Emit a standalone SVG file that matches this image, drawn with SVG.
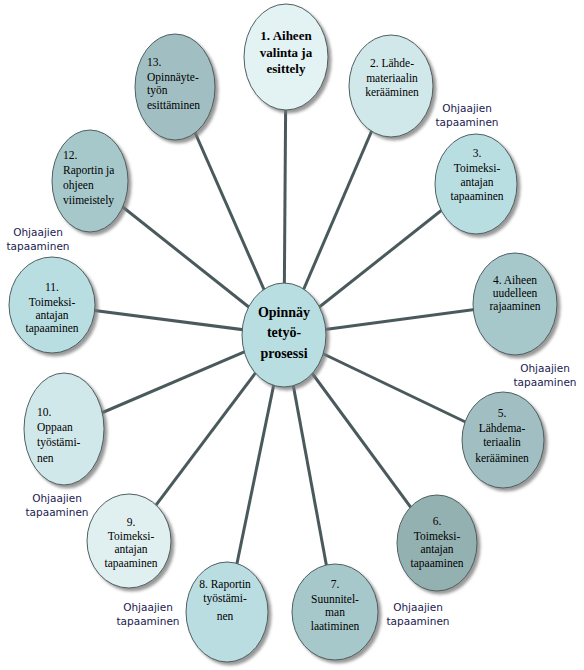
<svg xmlns="http://www.w3.org/2000/svg" width="584" height="670" viewBox="0 0 584 670">
<defs>
<filter id="sh" x="-20%" y="-20%" width="150%" height="150%">
<feDropShadow dx="3" dy="3" stdDeviation="1.5" flood-color="#777" flood-opacity="0.75"/>
</filter>
</defs>
<style>
.n{stroke:#4f5f61;stroke-width:1;filter:url(#sh)}
.t{font-family:"Liberation Serif","Times New Roman",serif;font-size:11.5px;fill:#000;text-anchor:middle}
.s{text-anchor:start}
.b{font-weight:bold;font-size:13px}
.l{font-family:"DejaVu Sans",Verdana,sans-serif;font-size:10.5px;fill:#1a1a50;text-anchor:middle}
.c{stroke:#4a5a5c;stroke-width:3;fill:none}
</style>
<rect width="584" height="670" fill="#fff"/>
<g id="connectors">
<line class="c" x1="284" y1="335" x2="286" y2="57"/>
<line class="c" x1="284" y1="335" x2="391" y2="86"/>
<line class="c" x1="284" y1="335" x2="476" y2="183"/>
<line class="c" x1="284" y1="335" x2="515" y2="304"/>
<line class="c" x1="284" y1="335" x2="503" y2="440"/>
<line class="c" x1="284" y1="335" x2="437" y2="543"/>
<line class="c" x1="284" y1="335" x2="335" y2="612"/>
<line class="c" x1="284" y1="335" x2="227" y2="612"/>
<line class="c" x1="284" y1="335" x2="129" y2="541"/>
<line class="c" x1="284" y1="335" x2="64" y2="429"/>
<line class="c" x1="284" y1="335" x2="52" y2="305"/>
<line class="c" x1="284" y1="335" x2="90" y2="181"/>
<line class="c" x1="284" y1="335" x2="175" y2="87"/>
</g>
<g id="n1">
<ellipse class="n" cx="286" cy="57" rx="42" ry="53" fill="#e3f2f3"/>
<text class="t b" x="286" y="40">1. Aiheen</text>
<text class="t b" x="286" y="57">valinta ja</text>
<text class="t b" x="286" y="73">esittely</text>
</g>
<g id="n2">
<ellipse class="n" cx="391" cy="86" rx="42" ry="51" fill="#d1e8ea"/>
<text class="t" x="392" y="67">2. Lähde-</text>
<text class="t" x="392" y="82">materiaalin</text>
<text class="t" x="392" y="96">kerääminen</text>
</g>
<g id="n3">
<ellipse class="n" cx="476" cy="184" rx="41" ry="50" fill="#b9dee2"/>
<text class="t" x="477" y="157">3.</text>
<text class="t" x="477" y="172">Toimeksi-</text>
<text class="t" x="477" y="186">antajan</text>
<text class="t" x="477" y="200">tapaaminen</text>
</g>
<g id="n4">
<ellipse class="n" cx="515" cy="304" rx="42" ry="51" fill="#a7c8cb"/>
<text class="t" x="515" y="284">4. Aiheen</text>
<text class="t" x="515" y="297">uudelleen</text>
<text class="t" x="515" y="310">rajaaminen</text>
</g>
<g id="n5">
<ellipse class="n" cx="503" cy="440" rx="41" ry="48" fill="#a1bfc2"/>
<text class="t" x="502" y="417">5.</text>
<text class="t" x="502" y="432">Lähdema-</text>
<text class="t" x="502" y="446">teriaalin</text>
<text class="t" x="502" y="462">kerääminen</text>
</g>
<g id="n6">
<ellipse class="n" cx="437" cy="543" rx="40" ry="48" fill="#94b1b2"/>
<text class="t" x="437" y="525">6.</text>
<text class="t" x="437" y="540">Toimeksi-</text>
<text class="t" x="437" y="553">antajan</text>
<text class="t" x="437" y="567">tapaaminen</text>
</g>
<g id="n7">
<ellipse class="n" cx="335" cy="612" rx="43" ry="48" fill="#a7c8cb"/>
<text class="t" x="335" y="588">7.</text>
<text class="t" x="335" y="603">Suunnitel-</text>
<text class="t" x="335" y="616">man</text>
<text class="t" x="335" y="630">laatiminen</text>
</g>
<g id="n8">
<ellipse class="n" cx="227" cy="612" rx="41" ry="50" fill="#badde2"/>
<text class="t" x="225" y="588">8. Raportin</text>
<text class="t" x="225" y="602">työstämi-</text>
<text class="t" x="225" y="620">nen</text>
</g>
<g id="n9">
<ellipse class="n" cx="129" cy="541" rx="42" ry="47" fill="#e0f0f1"/>
<text class="t" x="131" y="526">9.</text>
<text class="t" x="131" y="540">Toimeksi-</text>
<text class="t" x="131" y="553">antajan</text>
<text class="t" x="131" y="567">tapaaminen</text>
</g>
<g id="n10">
<ellipse class="n" cx="64" cy="429" rx="40" ry="56" fill="#d1e8ea"/>
<text class="t s" x="37" y="416">10.</text>
<text class="t s" x="37" y="431">Oppaan</text>
<text class="t s" x="37" y="446">työstämi-</text>
<text class="t s" x="37" y="462">nen</text>
</g>
<g id="n11">
<ellipse class="n" cx="52" cy="305" rx="43" ry="48" fill="#b9dee2"/>
<text class="t" x="52" y="291">11.</text>
<text class="t" x="52" y="306">Toimeksi-</text>
<text class="t" x="52" y="319">antajan</text>
<text class="t" x="52" y="332">tapaaminen</text>
</g>
<g id="n12">
<ellipse class="n" cx="90" cy="181" rx="38" ry="51" fill="#a7c8cb"/>
<text class="t s" x="63" y="159">12.</text>
<text class="t s" x="63" y="174">Raportin ja</text>
<text class="t s" x="63" y="189">ohjeen</text>
<text class="t s" x="63" y="204">viimeistely</text>
</g>
<g id="n13">
<ellipse class="n" cx="175" cy="87" rx="40" ry="53" fill="#a1bfc2"/>
<text class="t s" x="147" y="66">13.</text>
<text class="t s" x="147" y="81">Opinnäyte-</text>
<text class="t s" x="147" y="94">työn</text>
<text class="t s" x="147" y="109">esittäminen</text>
</g>
<g id="center">
<ellipse class="n" cx="284" cy="335" rx="42" ry="52" fill="#b9dee2"/>
<text class="t b" style="font-size:14px" x="284" y="317">Opinnäy</text>
<text class="t b" style="font-size:14px" x="284" y="337">tetyö-</text>
<text class="t b" style="font-size:14px" x="284" y="358">prosessi</text>
</g>
<g id="labels">
<text class="l" x="467" y="112">Ohjaajien</text>
<text class="l" x="467" y="126">tapaaminen</text>
<text class="l" x="545" y="372">Ohjaajien</text>
<text class="l" x="545" y="386">tapaaminen</text>
<text class="l" x="418" y="611">Ohjaajien</text>
<text class="l" x="418" y="625">tapaaminen</text>
<text class="l" x="148" y="611">Ohjaajien</text>
<text class="l" x="148" y="625">tapaaminen</text>
<text class="l" x="57" y="502">Ohjaajien</text>
<text class="l" x="57" y="516">tapaaminen</text>
<text class="l" x="38" y="236">Ohjaajien</text>
<text class="l" x="38" y="250">tapaaminen</text>
</g>
</svg>
